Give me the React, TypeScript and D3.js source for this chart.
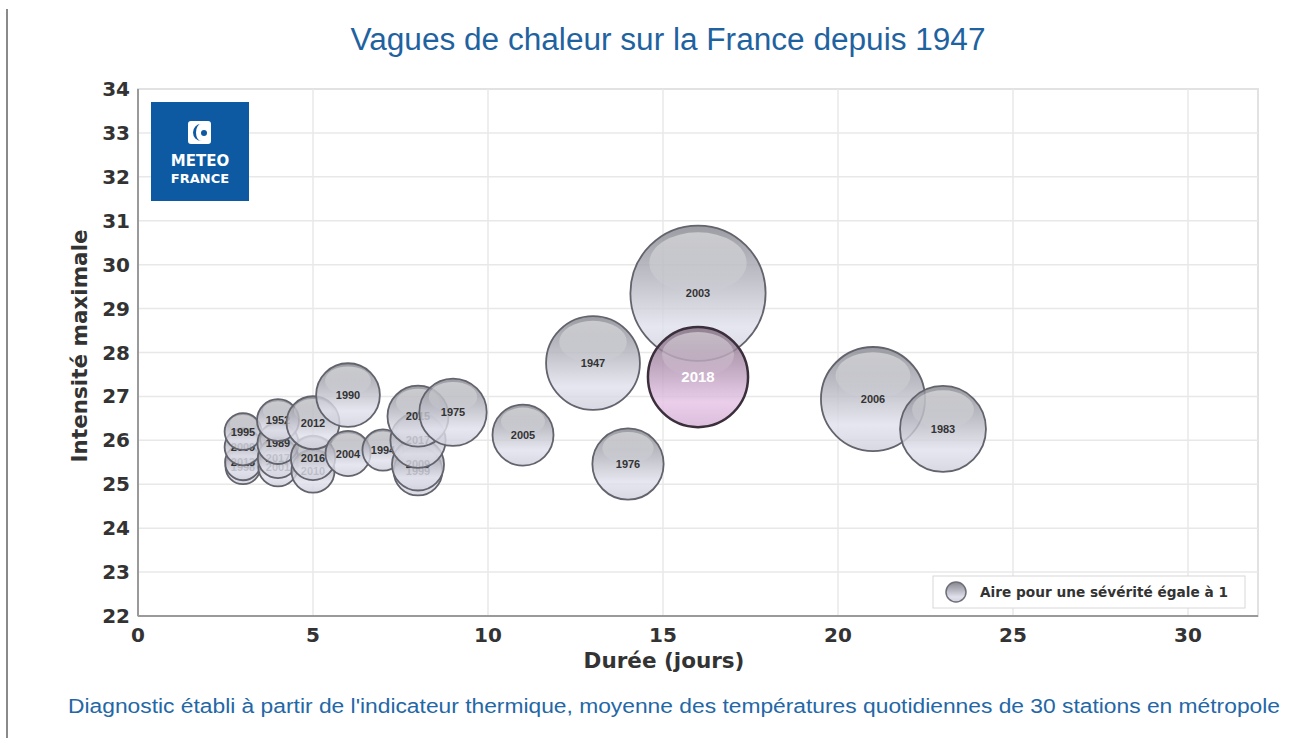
import React, { useEffect, useRef } from 'react'
import * as d3 from 'd3'

// durée (jours), intensité maximale, sévérité, année
const years = ['1998', '2013', '2009', '1995', '2001', '2017', '1989', '1952', '2010', '2016', '2012', '2004', '1990', '1994', '1999', '1983b', '2019', '2015', '1975', '2005', '1976', '1947', '2006', '1983', '2003', '2018']
const labels = ['1998', '2013', '2009', '1995', '2001', '2017', '1989', '1952', '2010', '2016', '2012', '2004', '1990', '1994', '1999', '2009', '2017', '2015', '1975', '2005', '1976', '1947', '2006', '1983', '2003', '2018']
const durations = [3, 3, 3, 3, 4, 4, 4, 4, 5, 5, 5, 6, 6, 7, 8, 8, 8, 8, 9, 11, 14, 13, 21, 23, 16, 16]
const intensities = [25.4, 25.5, 25.85, 26.2, 25.4, 25.6, 25.93, 26.46, 25.3, 25.6, 26.4, 25.7, 27.03, 25.78, 25.3, 25.45, 26.0, 26.55, 26.64, 26.12, 25.46, 27.76, 26.94, 26.26, 29.35, 27.44]
const severities = [3.6, 3.8, 4, 4, 4.6, 4.8, 5, 5.2, 5.5, 5.8, 8.3, 6, 12, 5, 7, 8, 9, 11, 13.4, 11, 15, 26, 32, 21.8, 54, 29.6]

const xTicks = [0, 5, 10, 15, 20, 25, 30]
const yTicks = d3.range(22, 35)

const App = () => {
  const ref = useRef(null)

  useEffect(() => {
    const svg = d3.select(ref.current)
    svg.selectAll('*').remove()
    const width = 1292, height = 738
    const x = d3.scaleLinear().domain([0, 32]).range([138, 1258])
    const y = d3.scaleLinear().domain([22, 34]).range([616, 89])
    const r = d3.scaleSqrt().domain([0, 1]).range([0, 9.2])

    const defs = svg.append('defs')
    const grad = (id, stops) => {
      const g = defs.append('linearGradient').attr('id', id)
        .attr('x1', 0).attr('y1', 0).attr('x2', 0).attr('y2', 1)
      stops.forEach(s => g.append('stop').attr('offset', s[0]).attr('stop-color', s[1]))
    }
    grad('gris', [[0, '#86878f'], [0.4, '#b5b6bf'], [0.75, '#e0e1ec'], [1, '#cfd0db']])
    grad('rose', [[0, '#7d6b7d'], [0.4, '#b396b3'], [0.75, '#e5c3e5'], [1, '#d4b0d4']])
    const hl = defs.append('linearGradient').attr('id', 'reflet')
      .attr('x1', 0).attr('y1', 0).attr('x2', 0).attr('y2', 1)
    hl.append('stop').attr('offset', 0).attr('stop-color', '#fff').attr('stop-opacity', 0.45)
    hl.append('stop').attr('offset', 1).attr('stop-color', '#fff').attr('stop-opacity', 0)

    svg.append('rect').attr('width', width).attr('height', height).attr('fill', '#fff')
    svg.append('line').attr('x1', 7).attr('x2', 7).attr('y1', 9).attr('y2', height)
      .attr('stroke', '#8a8a8a').attr('stroke-width', 2)

    svg.append('text').attr('x', 668).attr('y', 50).attr('text-anchor', 'middle')
      .attr('font-family', 'Liberation Sans, Arial, sans-serif').attr('font-size', 31)
      .attr('textLength', 635).attr('lengthAdjust', 'spacingAndGlyphs')
      .attr('fill', '#1f62a0').text('Vagues de chaleur sur la France depuis 1947')

    // grille
    const g = svg.append('g')
    g.append('rect').attr('x', x(0)).attr('y', y(34)).attr('width', x(32) - x(0)).attr('height', y(22) - y(34))
      .attr('fill', 'none').attr('stroke', '#e2e2e2').attr('stroke-width', 2)
    g.selectAll('.gy').data(yTicks.slice(1, -1)).enter().append('line')
      .attr('x1', x(0)).attr('x2', x(32)).attr('y1', d => y(d)).attr('y2', d => y(d))
      .attr('stroke', '#e8e8e8').attr('stroke-width', 1.5)
    g.selectAll('.gx').data(xTicks.slice(1)).enter().append('line')
      .attr('x1', d => x(d)).attr('x2', d => x(d)).attr('y1', y(34)).attr('y2', y(22))
      .attr('stroke', '#e8e8e8').attr('stroke-width', 1.5)

    // logo
    const logo = svg.append('g')
    logo.append('rect').attr('x', 151).attr('y', 102).attr('width', 98).attr('height', 99).attr('fill', '#0d5aa2')
    logo.append('rect').attr('x', 188).attr('y', 121).attr('width', 23).attr('height', 23).attr('rx', 3)
      .attr('fill', '#fff')
    logo.append('path').attr('d', 'M201,124 A8,8.5 0 1,0 201,141 A5,8.5 0 0,1 201,124 Z').attr('fill', '#0d5aa2')
    logo.append('circle').attr('cx', 204).attr('cy', 133).attr('r', 3).attr('fill', '#0d5aa2')
    logo.selectAll('.lt').data(['METEO', 'FRANCE']).enter().append('text')
      .attr('x', 200).attr('y', (d, i) => 166 + i * 17).attr('text-anchor', 'middle')
      .attr('font-family', 'DejaVu Sans, sans-serif').attr('font-weight', 'bold')
      .attr('font-size', (d, i) => i ? 13 : 15).attr('fill', '#fff').text(d => d)

    // axes
    g.append('line').attr('x1', x(0)).attr('x2', x(0)).attr('y1', y(34)).attr('y2', y(22))
      .attr('stroke', '#9a9a9a').attr('stroke-width', 2)
    g.append('line').attr('x1', x(0)).attr('x2', x(32)).attr('y1', y(22)).attr('y2', y(22))
      .attr('stroke', '#9a9a9a').attr('stroke-width', 2)
    const tickStyle = (sel, size) => sel.attr('font-family', 'DejaVu Sans, sans-serif').attr('font-weight', 'bold')
      .attr('font-size', size).attr('fill', '#333')
    g.selectAll('.ty').data(yTicks).enter().append('text')
      .attr('x', 130).attr('y', d => y(d) + 7).attr('text-anchor', 'end').text(d => d).call(tickStyle, 20)
    g.selectAll('.tx').data(xTicks).enter().append('text')
      .attr('x', d => x(d)).attr('y', 642).attr('text-anchor', 'middle').text(d => d).call(tickStyle, 20)
    g.append('text').attr('x', 664).attr('y', 668).attr('text-anchor', 'middle').text('Durée (jours)').call(tickStyle, 21.5)
    g.append('text').attr('transform', `translate(87,${y(28.15)}) rotate(-90)`).attr('text-anchor', 'middle')
      .text('Intensité maximale').call(tickStyle, 21.5)

    // bulles
    const data = years.map((k, i) => ({ k, label: labels[i], x: durations[i], y: intensities[i], s: severities[i] }))
    const bubbles = g.selectAll('.b').data(data).enter().append('g')
      .attr('transform', d => `translate(${x(d.x)},${y(d.y)})`)
    bubbles.append('circle').attr('r', d => r(d.s))
      .attr('fill', d => d.k === '2018' ? 'url(#rose)' : 'url(#gris)')
      .attr('fill-opacity', 0.82)
      .attr('stroke', d => d.k === '2018' ? '#3c2f3c' : '#62636c')
      .attr('stroke-width', d => d.k === '2018' ? 2.5 : 1.8)
    bubbles.append('ellipse').attr('cy', d => -r(d.s) * 0.45).attr('rx', d => r(d.s) * 0.72)
      .attr('ry', d => r(d.s) * 0.45).attr('fill', 'url(#reflet)')
    bubbles.append('text').attr('y', d => d.k === '2018' ? 5 : 4).attr('text-anchor', 'middle')
      .attr('font-family', 'Liberation Sans, Arial, sans-serif').attr('font-weight', 'bold')
      .attr('font-size', d => d.k === '2018' ? 15 : 11)
      .attr('fill', d => d.k === '2018' ? '#fff' : '#333').text(d => d.label)

    // légende
    const lg = svg.append('g')
    lg.append('rect').attr('x', 933).attr('y', 576).attr('width', 312).attr('height', 32)
      .attr('fill', '#fff').attr('stroke', '#d8d8d8')
    lg.append('circle').attr('cx', 956).attr('cy', 592).attr('r', 10).attr('fill', 'url(#gris)')
      .attr('stroke', '#6e6f78').attr('stroke-width', 1.5)
    lg.append('text').attr('x', 980).attr('y', 597).attr('font-family', 'DejaVu Sans, sans-serif')
      .attr('font-weight', 'bold').attr('font-size', 13.5).attr('fill', '#333')
      .attr('textLength', 248).attr('lengthAdjust', 'spacingAndGlyphs')
      .text('Aire pour une sévérité égale à 1')

    svg.append('text').attr('x', 674).attr('y', 713).attr('text-anchor', 'middle')
      .attr('font-family', 'Liberation Sans, Arial, sans-serif').attr('font-size', 20)
      .attr('textLength', 1212).attr('lengthAdjust', 'spacingAndGlyphs')
      .attr('fill', '#2467a6')
      .text("Diagnostic établi à partir de l'indicateur thermique, moyenne des températures quotidiennes de 30 stations en métropole")
  }, [])

  return (
    <div style={{ position: 'absolute', left: 0, top: 0 }}>
      <svg ref={ref} width='1292' height='738'></svg>
    </div>
  )
}

export default App
